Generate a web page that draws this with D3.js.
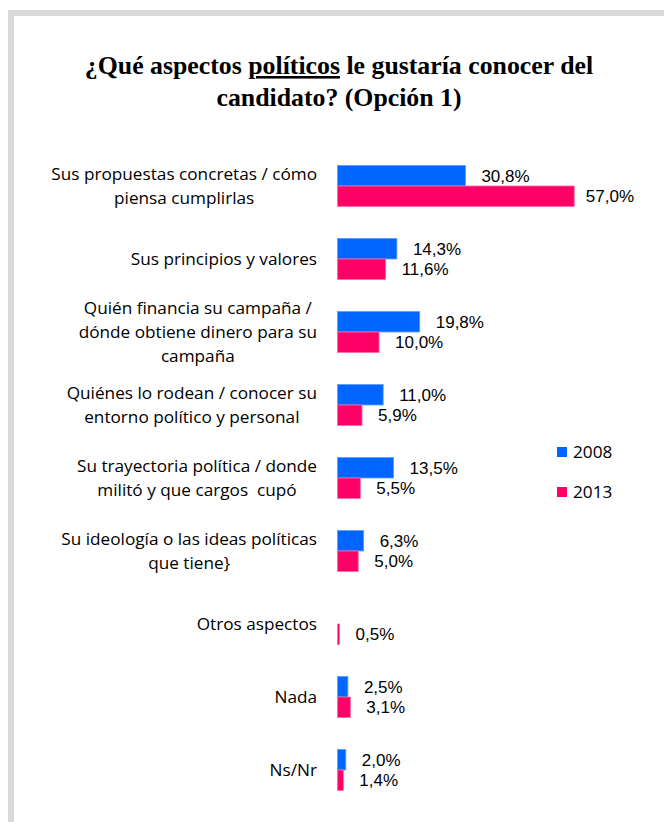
<!DOCTYPE html>
<html>
<head>
<meta charset="utf-8">
<script src="https://cdn.jsdelivr.net/npm/d3@7"></script>
<style>
  html, body { margin: 0; padding: 0; background: #fff; }
  #vis { width: 664px; height: 822px; }
</style>
</head>
<body>
<div id="vis"></div>
<script>
// data
const categories = [
  "Sus propuestas concretas / cómo\npiensa cumplirlas",
  "Sus principios y valores",
  "Quién financia su campaña /\ndónde obtiene dinero para su\ncampaña",
  "Quiénes lo rodean / conocer su\nentorno político y personal",
  "Su trayectoria política / donde\nmilitó y que cargos  cupó",
  "Su ideología o las ideas políticas\nque tiene}",
  "Otros aspectos",
  "Nada",
  "Ns/Nr"
]
const series = ["2008", "2013"]
const values2008 = [30.8, 14.3, 19.8, 11.0, 13.5, 6.3, null, 2.5, 2.0]
const values2013 = [57.0, 11.6, 10.0, 5.9, 5.5, 5.0, 0.5, 3.1, 1.4]
const titleLines = [
  ["¿Qué aspectos ", "políticos", " le gustaría conocer del"],
  ["candidato? (Opción 1)"]
]

const colours = { "2008": "#0066FF", "2013": "#FF0066" }
const strokes = { "2008": "#5C9DFF", "2013": "#FF6EA4" }

const width = 664
const height = 822
const labelRight = 317
const plotRight = 634
const sansFont = "'Open Sans', sans-serif"
const numFont = "'Liberation Sans', Arial, sans-serif"

const locale = d3.formatLocale({ decimal: ",", thousands: ".", grouping: [3], currency: ["", "€"] })
const pct = v => locale.format(".1f")(v) + "%"

// one row per bar
const shapedData = categories.reduce((acc, cat, i) => {
  return acc.concat([
    { row: i, series: "2008", value: values2008[i] },
    { row: i, series: "2013", value: values2013[i] }
  ])
}, []).filter(d => d.value != null)

const svg = d3.select("#vis").append("svg")
  .attr("width", width)
  .attr("height", height)
  .attr("viewBox", [0, 0, width, height])

// grey frame (top and left edges only show)
svg.append("rect")
  .attr("x", 11).attr("y", 13)
  .attr("width", width + 20).attr("height", height + 20)
  .attr("fill", "none")
  .attr("stroke", "#d9d9d9")
  .attr("stroke-width", 6)

// title
const title = svg.append("text")
  .attr("text-anchor", "middle")
  .attr("font-family", "'Liberation Serif', serif")
  .attr("font-weight", "bold")
  .attr("font-size", 25.8)
  .attr("fill", "#000")

titleLines.forEach((parts, li) => {
  const line = title.append("tspan")
    .attr("x", 339)
    .attr("y", 74 + li * 32)
  parts.forEach((p, pi) => {
    const t = line.append("tspan").text(p)
    if (p === "políticos") t.attr("text-decoration", "underline")
  })
})

const y = d3.scaleBand()
  .domain(d3.range(categories.length))
  .range([149.5, 806.5])
  .paddingInner(0.438)
  .paddingOuter(0.219)

const ySub = d3.scaleBand()
  .domain(series)
  .range([0, y.bandwidth()])

const x = d3.scaleLinear()
  .domain([0, 60])
  .range([337.5, 337.5 + 60 * 4.153])

// bars
svg.append("g")
  .selectAll("rect")
  .data(shapedData)
  .join("rect")
  .attr("x", x(0))
  .attr("y", d => y(d.row) + ySub(d.series))
  .attr("width", d => x(d.value) - x(0))
  .attr("height", ySub.bandwidth())
  .attr("fill", d => colours[d.series])
  .attr("stroke", d => strokes[d.series])
  .attr("stroke-width", 0.8)

// bar values
const values = svg.append("g")
  .attr("font-family", numFont)
  .attr("font-size", 17)
  .attr("fill", "#000")
  .selectAll("text")
  .data(shapedData)
  .join("text")
  .attr("y", d => y(d.row) + ySub(d.series) + ySub.bandwidth() / 2)
  .attr("dy", "0.35em")
  .text(d => pct(d.value))

// keep labels inside the plot area on the right
values.attr("x", function (d) {
  const w = this.getComputedTextLength()
  return Math.min(x(d.value) + 16, plotRight - w)
})

// category labels, centred lines, block right aligned
const lineHeight = 24
const cats = svg.append("g")
  .attr("font-family", sansFont)
  .attr("font-size", 17.2)
  .attr("fill", "#000")
  .selectAll("text")
  .data(categories)
  .join("text")
  .attr("text-anchor", "middle")
  .style("white-space", "pre")

cats.each(function (d, i) {
  const lines = d.split("\n")
  const t = d3.select(this)
  const mid = y(i) + y.bandwidth() / 2
  lines.forEach((l, li) => {
    t.append("tspan")
      .attr("y", mid + (li - (lines.length - 1) / 2) * lineHeight)
      .attr("dy", "0.35em")
      .text(l)
  })
  let maxW = 0
  t.selectAll("tspan").each(function () {
    maxW = Math.max(maxW, this.getComputedTextLength())
  })
  t.selectAll("tspan").attr("x", labelRight - maxW / 2)
})

// legend
const legend = svg.append("g")
  .selectAll("g")
  .data(series)
  .join("g")
  .attr("transform", (d, i) => `translate(557,${447 + i * 40})`)

legend.append("rect")
  .attr("width", 10)
  .attr("height", 10)
  .attr("fill", d => colours[d])

legend.append("text")
  .attr("x", 16)
  .attr("y", 5)
  .attr("dy", "0.35em")
  .attr("font-family", sansFont)
  .attr("font-size", 17.2)
  .attr("fill", "#000")
  .text(d => d)
</script>
</body>
</html>
